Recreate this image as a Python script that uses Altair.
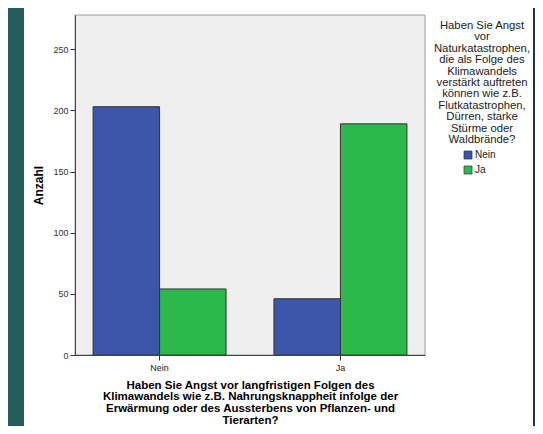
import altair as alt
import pandas as pd

# Data
categories = ["Nein", "Ja"]            # x: Angst vor langfristigen Folgen
series = ["Nein", "Ja"]                # colour: Angst vor Naturkatastrophen
values_nein = [203, 46]                # series "Nein" (blue)
values_ja = [54, 189]                  # series "Ja" (green)

x_title = [
    "Haben Sie Angst vor langfristigen Folgen des",
    "Klimawandels wie z.B. Nahrungsknappheit infolge der",
    "Erwärmung oder des Aussterbens von Pflanzen- und",
    "Tierarten?",
]
legend_title = [
    "Haben Sie Angst",
    "vor",
    "Naturkatastrophen,",
    "die als Folge des",
    "Klimawandels",
    "verstärkt auftreten",
    "können wie z.B.",
    "Flutkatastrophen,",
    "Dürren, starke",
    "Stürme oder",
    "Waldbrände?",
]
y_ticks = [0, 50, 100, 150, 200, 250]

rows = []
for i, c in enumerate(categories):
    rows.append({"frage": c, "serie": "Nein", "anzahl": values_nein[i]})
    rows.append({"frage": c, "serie": "Ja", "anzahl": values_ja[i]})
df = pd.DataFrame(rows)

FONT = "Liberation Sans"
BLUE = "#3e56aa"
GREEN = "#2db84b"

one = pd.DataFrame({"k": [0]})

bg = alt.Chart(one).mark_rect(
    fill=alt.LinearGradient(
        gradient="linear", x1=0, y1=0, x2=1, y2=0,
        stops=[alt.GradientStop(offset=0, color="#255c5c"),
               alt.GradientStop(offset=1, color="#153a4b")],
    ),
    strokeWidth=0,
).encode(x=alt.value(-70), x2=alt.value(470), y=alt.value(-12), y2=alt.value(420))

panel = alt.Chart(one).mark_rect(fill="white", strokeWidth=0).encode(
    x=alt.value(-51), x2=alt.value(458), y=alt.value(-7), y2=alt.value(420)
)

plotbg = alt.Chart(one).mark_rect(fill="#efefef", stroke="#9a9a9a", strokeWidth=1).encode(
    x=alt.value(0), x2=alt.value(350), y=alt.value(0), y2=alt.value(340)
)

bars = alt.Chart(df).mark_bar(stroke="#333333", strokeWidth=1).encode(
    x=alt.X(
        "frage:N",
        sort=categories,
        scale=alt.Scale(paddingInner=0.265, paddingOuter=0.1),
        axis=alt.Axis(
            title=x_title, zindex=1,
            titleFont=FONT, titleFontSize=11.5, titleFontWeight="bold", titleColor="#000000",
            titleLineHeight=11.7, titleBaseline="top", titleY=24,
            labelFont=FONT, labelFontSize=9, labelColor="#222222", labelAngle=0,
            labelPadding=3, tickSize=5, tickColor="#333333",
            domainColor="#444444", grid=False,
        ),
    ),
    xOffset=alt.XOffset("serie:N", sort=series, scale=alt.Scale(paddingInner=0, paddingOuter=0)),
    y=alt.Y(
        "anzahl:Q",
        scale=alt.Scale(domain=[0, 278], nice=False, zero=True),
        axis=alt.Axis(
            title="Anzahl", values=y_ticks, zindex=1,
            titleFont=FONT, titleFontSize=12, titleFontWeight="bold", titleColor="#000000",
            titleX=-37, titleBaseline="middle",
            labelFont=FONT, labelFontSize=9, labelColor="#333333",
            labelPadding=2, tickSize=5, tickColor="#333333",
            domainColor="#444444", grid=False,
        ),
    ),
    color=alt.Color(
        "serie:N",
        sort=series,
        scale=alt.Scale(domain=series, range=[BLUE, GREEN]),
        legend=alt.Legend(
            title=None, orient="none", legendX=388, legendY=135,
            symbolType="square", symbolSize=64, symbolStrokeColor="#333333",
            symbolStrokeWidth=0.7, symbolOpacity=1,
            labelFont=FONT, labelFontSize=10, labelColor="#222222",
            labelOffset=2, rowPadding=3,
        ),
    ),
)

ltitle = alt.Chart(one).mark_text(
    text=legend_title, align="center", baseline="top", font=FONT,
    fontSize=11.3, lineHeight=11.4, color="#222222",
).encode(x=alt.value(407), y=alt.value(5))

chart = alt.layer(bg, panel, plotbg, bars, ltitle).properties(
    width=350, height=340,
    padding={"left": 67, "top": 7, "right": 110, "bottom": 71},
    autosize=alt.AutoSizeParams(type="none"),
    background="#1f4b54",
).configure_view(stroke=None)

chart.save("out.html", embed_options={"renderer": "svg", "actions": False})
